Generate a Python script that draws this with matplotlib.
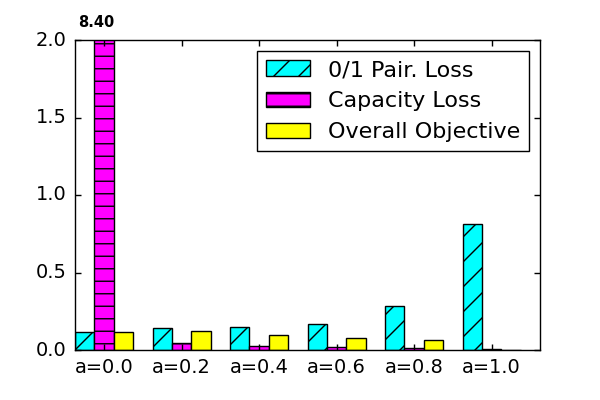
import numpy as np
import matplotlib
matplotlib.use("Agg")
from matplotlib import pyplot as plt

groups = ["a=0.0", "a=0.2", "a=0.4", "a=0.6", "a=0.8", "a=1.0"]
pair_loss = [0.114, 0.140, 0.146, 0.168, 0.282, 0.810]
capacity_loss = [8.40, 0.043, 0.024, 0.017, 0.010, 0.005]
overall = [0.114, 0.120, 0.095, 0.075, 0.062, 0.003]

plt.style.use("classic")
# figure drawn at 150 dpi, so sizes are scaled by 2/3
plt.rcParams.update({
    "font.size": 9.33,
    "axes.linewidth": 0.67,
    "patch.linewidth": 0.67,
    "hatch.linewidth": 0.67,
    "xtick.major.size": 2.7,
    "ytick.major.size": 2.7,
    "xtick.major.width": 0.67,
    "ytick.major.width": 0.67,
    "savefig.facecolor": "white",
    "figure.facecolor": "white",
})

ind = np.arange(len(groups))
width = 0.25

fig, ax = plt.subplots(figsize=(4, 8 / 3), dpi=150)
fig.subplots_adjust(left=0.125, right=0.9, bottom=0.125, top=0.9)

ax.bar(ind, pair_loss, width, align="edge", color="cyan", edgecolor="black",
       hatch="//", label="0/1 Pair. Loss")
ax.bar(ind + width, capacity_loss, width, align="edge", color="magenta",
       edgecolor="black", hatch="--", label="Capacity Loss")
ax.bar(ind + 2 * width, overall, width, align="edge", color="yellow",
       edgecolor="black", label="Overall Objective")

ax.set_ylim(0, 2.0)
ax.set_xlim(0, 6)
ax.set_yticks([0.0, 0.5, 1.0, 1.5, 2.0])
ax.set_xticks(ind + 1.5 * width)
ax.set_xticklabels(groups)

# value of the clipped bar
ax.text(ind[0] + 0.28, 2.115, "%.2f" % capacity_loss[0], ha="center", va="center",
        fontweight="bold", fontsize=7.0, clip_on=False)

ax.legend(loc="upper right", fontsize=10.67)

fig.savefig("out.png", dpi=150)
